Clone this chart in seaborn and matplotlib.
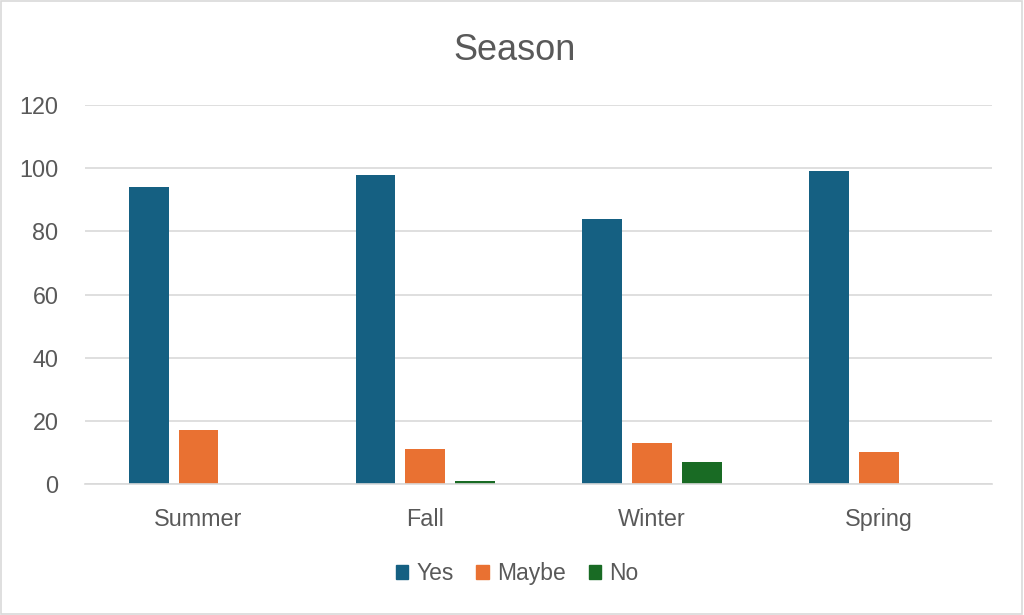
import pandas as pd
import seaborn as sns
import matplotlib.pyplot as plt
from matplotlib.patches import Rectangle

seasons = ["Summer", "Fall", "Winter", "Spring"]
answers = ["Yes", "Maybe", "No"]
yes_vals = [94, 98, 84, 99]
maybe_vals = [17, 11, 13, 10]
no_vals = [0, 1, 7, 0]
colors = ["#156082", "#E97132", "#196B24"]

rows = []
for name, vals in zip(answers, [yes_vals, maybe_vals, no_vals]):
    for s, v in zip(seasons, vals):
        rows.append({"Season": s, "Answer": name, "Count": v})
df = pd.DataFrame(rows)

sns.set_theme(style="white")
plt.rcParams['font.family'] = ['Liberation Sans', 'DejaVu Sans']
text_col = "#595959"

fig = plt.figure(figsize=(10.24, 6.15), dpi=100)
ax = fig.add_axes([0.083, 0.213, 0.886, 0.616])

sns.barplot(data=df, x="Season", y="Count", hue="Answer", order=seasons,
            hue_order=answers, palette=colors, width=0.657, gap=0.2,
            saturation=1, ax=ax, legend=False, linewidth=0)

ax.set_ylim(0, 120)
ax.set_yticks(range(0, 121, 20))
ax.yaxis.grid(True, color="#D9D9D9", linewidth=1.2)
ax.set_axisbelow(True)
for sp in ["top", "right", "left"]:
    ax.spines[sp].set_visible(False)
ax.spines["bottom"].set_color("#D9D9D9")
ax.spines["bottom"].set_linewidth(1.2)
ax.set_xlabel("")
ax.set_ylabel("")
ax.tick_params(axis="y", length=0, pad=19, labelsize=16.8, labelcolor=text_col)
ax.tick_params(axis="x", length=0, pad=17, labelsize=16.8, labelcolor=text_col)

fig.suptitle("Season", x=0.503, y=0.947, fontsize=26, color=text_col)

handles = [Rectangle((0, 0), 1, 1, color=c) for c in colors]
fig.legend(handles, answers, loc="center", bbox_to_anchor=(0.505, 0.067), ncol=3,
           frameon=False, fontsize=16.5, labelcolor=text_col, handlelength=0.55,
           handleheight=0.55, handletextpad=0.35, columnspacing=1.0)

fig.patches.append(Rectangle((0.001, 0.001), 0.997, 0.997, transform=fig.transFigure,
                             fill=False, edgecolor="#D9D9D9", linewidth=1.2))

fig.savefig("out.png", dpi=100, facecolor="white")
